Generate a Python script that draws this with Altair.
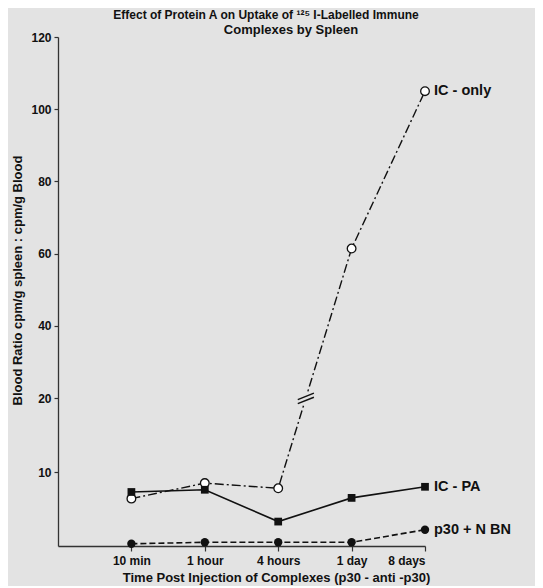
import altair as alt
import pandas as pd
import numpy as np

# ---- data ----
categories = ["10 min", "1 hour", "4 hours", "1 day", "8 days"]
ic_only = [6.4, 8.5, 7.8, 61.4, 105.0]
ic_pa = [7.3, 7.6, 3.3, 6.5, 8.0]
p30_nbn = [0.3, 0.5, 0.5, 0.5, 2.2]
series_names = ["IC - only", "IC - PA", "p30 + N BN"]
y_ticks = [10, 20, 40, 60, 80, 100, 120]
break_value = 20

title_line1 = "Effect of Protein A on Uptake of \u00b9\u00b2\u2075 I-Labelled Immune"
title_line2 = "Complexes by Spleen"
x_title = "Time Post Injection of Complexes (p30 - anti -p30)"
y_title = "Blood Ratio cpm/g spleen : cpm/g Blood"

# ---- layout ----
W, H = 367, 509
y_dom = [0, 10, 20, 120]
y_rng = [H, H - 74, H - 148, 0]
FONT = "Liberation Sans, Arial, sans-serif"
INK = "#111111"
BG = "#e3e3e3"

pos = list(range(1, len(categories) + 1))

def frame(vals, name):
    return pd.DataFrame({"pos": pos, "val": vals, "cat": categories, "series": name})

d_only = frame(ic_only, series_names[0])
d_pa = frame(ic_pa, series_names[1])
d_p30 = frame(p30_nbn, series_names[2])

# break marker on the IC-only line (between 4 hours and 1 day), found in pixel space
py = lambda v: np.interp(v, y_dom, y_rng)
p_a, p_b, p_c = py(ic_only[2]), py(ic_only[3]), py(break_value)
frac = (p_a - p_c) / (p_a - p_b)
d_break = pd.DataFrame({"pos": [pos[2] + frac], "val": [break_value]})

label_df = pd.DataFrame({
    "pos": [pos[-1]] * 3,
    "val": [ic_only[-1], ic_pa[-1], p30_nbn[-1]],
    "t": series_names,
})

label_expr = "[" + ",".join("'%s'" % c for c in categories) + "][datum.value-1]"

x_enc = alt.X("pos:Q", scale=alt.Scale(domain=[0, len(categories)], nice=False, zero=False),
              axis=alt.Axis(values=pos, labelExpr=label_expr, grid=False, title=x_title,
                            tickSize=5, labelPadding=4, labelFontSize=12,
                            titleX=218, titleY=31, titleBaseline="middle", titleFontSize=13,
                            titleAnchor="middle"))
y_enc = alt.Y("val:Q", scale=alt.Scale(domain=y_dom, range=y_rng, nice=False, zero=False),
              axis=alt.Axis(values=y_ticks, grid=False, title=y_title, tickSize=4,
                            labelPadding=3, labelFontSize=12,
                            titleX=-41, titleY=243, titleBaseline="middle", titleFontSize=13,
                            titleAngle=270))

l_only = alt.Chart(d_only).mark_line(color=INK, strokeWidth=1.4, strokeDash=[9, 3, 2, 3]).encode(x=x_enc, y=y_enc)
l_pa = alt.Chart(d_pa).mark_line(color=INK, strokeWidth=1.6).encode(x=x_enc, y=y_enc)
l_p30 = alt.Chart(d_p30).mark_line(color=INK, strokeWidth=1.6, strokeDash=[6, 3]).encode(x=x_enc, y=y_enc)

m_only = alt.Chart(d_only).mark_point(shape="circle", filled=True, fill="white", stroke=INK,
                                      strokeWidth=1.3, size=75, opacity=1).encode(x=x_enc, y=y_enc)
m_pa = alt.Chart(d_pa).mark_point(shape="square", filled=True, color=INK, size=60, opacity=1).encode(x=x_enc, y=y_enc)
m_p30 = alt.Chart(d_p30).mark_point(shape="circle", filled=True, color=INK, size=70, opacity=1).encode(x=x_enc, y=y_enc)

brk_gap = alt.Chart(d_break).mark_point(shape="M-1,0.2L1,-0.6M-1,0.7L1,-0.1", filled=False,
                                        stroke=BG, strokeWidth=5, size=260, opacity=1).encode(x=x_enc, y=y_enc)
brk = alt.Chart(d_break).mark_point(shape="M-1,0.2L1,-0.6M-1,0.7L1,-0.1", filled=False,
                                    stroke=INK, strokeWidth=1.5, size=260, opacity=1).encode(x=x_enc, y=y_enc)

labels = alt.Chart(label_df).mark_text(font=FONT, fontSize=14.5, fontWeight="bold", color=INK,
                                       align="left", baseline="middle", dx=9).encode(
    x=x_enc, y=y_enc, text="t:N")

t1 = alt.Chart(pd.DataFrame({"t": [title_line1]})).mark_text(
    font=FONT, fontSize=12, fontWeight="bold", color=INK, align="center", baseline="middle"
).encode(x=alt.value(208), y=alt.value(-22), text="t:N")
t2 = alt.Chart(pd.DataFrame({"t": [title_line2]})).mark_text(
    font=FONT, fontSize=13, fontWeight="bold", color=INK, align="center", baseline="middle"
).encode(x=alt.value(233), y=alt.value(-7), text="t:N")

chart = alt.layer(l_only, l_pa, l_p30, brk_gap, brk, m_only, m_pa, m_p30, labels, t1, t2).properties(
    width=W, height=H,
    autosize=alt.AutoSizeParams(type="none"),
    padding={"left": 50, "top": 29, "right": 110, "bottom": 40},
    background=BG,
).configure_view(stroke=None).configure_axis(
    labelFont=FONT, titleFont=FONT, labelFontWeight="bold", titleFontWeight="bold",
    labelColor=INK, titleColor=INK, domainColor="#333333", tickColor="#333333",
    domainWidth=1.3, tickWidth=1.2,
)

chart.save("out.html", embed_options={"renderer": "svg", "actions": False})
